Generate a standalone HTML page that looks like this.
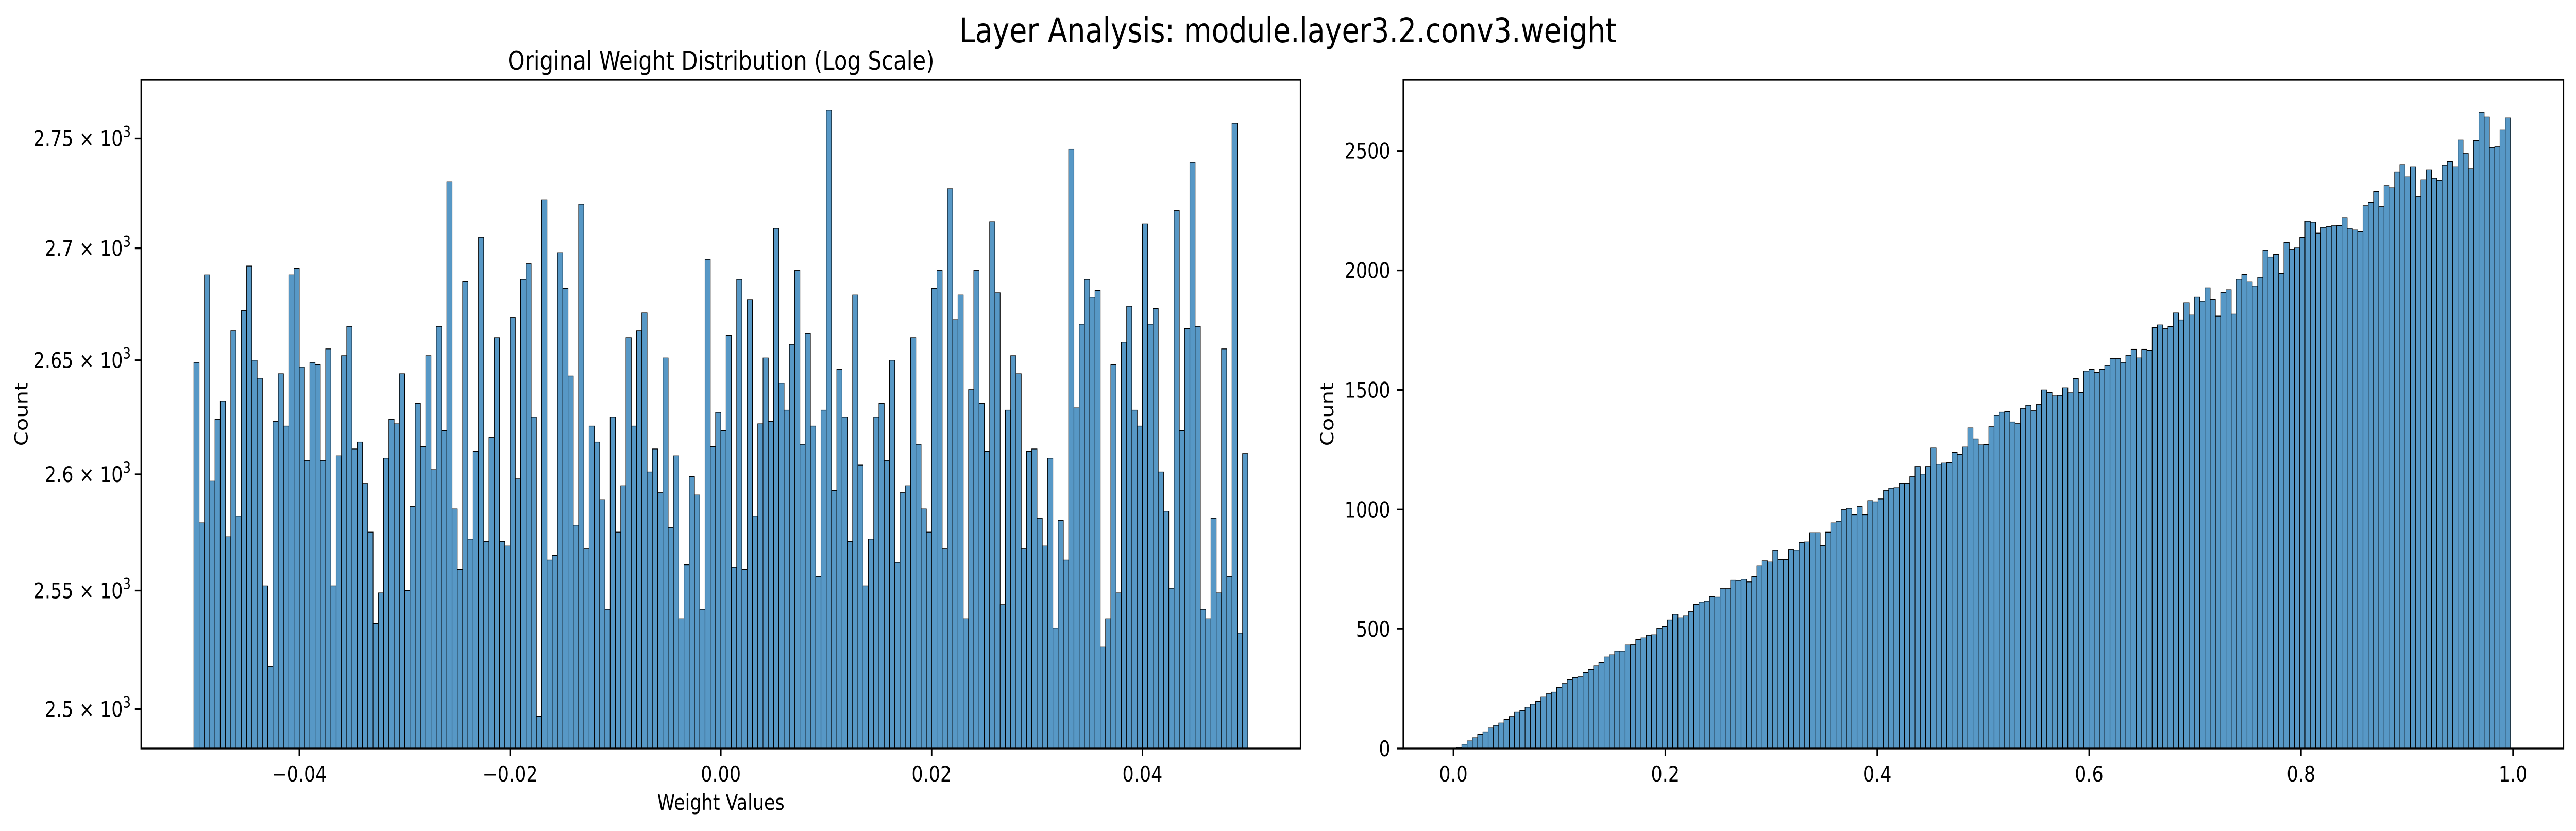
<!DOCTYPE html>
<html><head><meta charset="utf-8"><style>
html,body{margin:0;padding:0;background:#fff;overflow:hidden;width:100%;height:100%;}
svg{display:block;width:100vw;height:100vh;font-family:"DejaVu Sans","Liberation Sans",sans-serif;}
</style></head><body>
<svg id="chart" viewBox="0 0 5966 1612" preserveAspectRatio="none" xmlns="http://www.w3.org/2000/svg">
<rect width="5966" height="1612" fill="#fff"/>
<text x="2983" y="82" font-size="66" text-anchor="middle">Layer Analysis: module.layer3.2.conv3.weight</text>
<text x="1670" y="135" font-size="50" text-anchor="middle">Original Weight Distribution (Log Scale)</text>
<g id="left"></g>
<g id="right"></g>
</svg>
<script>
// Left histogram data (log-scale y)
const leftBinStart = -0.05;
const leftBinEnd = 0.05;
const leftCounts = [2649,2579,2688,2597,2624,2632,2573,2663,2582,2672,2692,2650,2642,2552,2518,2623,2644,2621,2688,2691,
2647,2606,2649,2648,2606,2655,2552,2608,2652,2665,2611,2614,2596,2575,2536,2549,2607,2624,2622,2644,
2550,2586,2631,2612,2652,2602,2665,2619,2730,2585,2559,2685,2572,2610,2705,2571,2616,2660,2571,2569,
2669,2598,2686,2693,2625,2497,2722,2563,2565,2698,2682,2643,2578,2720,2568,2621,2614,2589,2542,2625,
2575,2595,2660,2621,2663,2671,2601,2611,2592,2651,2577,2608,2538,2561,2599,2591,2542,2695,2612,2627,
2619,2661,2560,2686,2559,2677,2582,2622,2651,2623,2709,2640,2628,2657,2690,2613,2662,2621,2556,2628,
2763,2593,2646,2625,2571,2679,2604,2552,2572,2625,2631,2606,2650,2562,2592,2595,2660,2613,2585,2575,
2682,2690,2568,2727,2668,2679,2538,2637,2690,2631,2610,2712,2680,2544,2628,2652,2644,2568,2610,2611,
2581,2569,2607,2534,2580,2563,2745,2629,2666,2686,2678,2681,2526,2538,2648,2549,2658,2674,2628,2621,
2711,2666,2673,2601,2584,2551,2717,2619,2664,2739,2665,2542,2538,2581,2549,2655,2556,2757,2532,2609];
const leftXTicks = [-0.04,-0.02,0.00,0.02,0.04];
const leftXTickLabels = ["\u22120.04","\u22120.02","0.00","0.02","0.04"];
const leftYTicks = [2500,2550,2600,2650,2700,2750];
const leftYTickLabels = ["2.5","2.55","2.6","2.65","2.7","2.75"];

// Right histogram data (linear y)
const rightBinStart = 0.003;
const rightBinEnd = 0.9977;
const rightCounts = [5,18,32,45,59,70,86,97,107,122,134,152,159,173,186,197,215,229,236,256,
272,288,297,300,318,331,347,359,383,392,408,408,433,434,456,463,474,476,502,510,
538,561,547,556,572,603,613,617,635,633,669,669,704,703,708,697,719,765,785,780,
830,790,790,833,831,862,864,903,903,849,905,944,951,999,1005,978,1012,978,1037,1032,
1044,1080,1089,1091,1110,1110,1137,1180,1148,1180,1257,1189,1194,1196,1239,1230,1261,1341,1295,1270,
1271,1346,1393,1407,1409,1366,1359,1423,1436,1413,1439,1500,1489,1475,1477,1509,1488,1547,1489,1579,
1586,1573,1586,1602,1631,1631,1615,1645,1670,1634,1670,1666,1761,1772,1756,1765,1822,1793,1865,1813,
1888,1872,1927,1879,1809,1908,1919,1817,1963,1983,1951,1935,1971,2085,2056,2067,1987,2117,2088,2094,
2138,2206,2202,2156,2180,2183,2187,2188,2221,2176,2169,2162,2271,2285,2330,2267,2355,2346,2412,2441,
2391,2434,2308,2378,2421,2385,2376,2439,2455,2434,2546,2489,2426,2544,2661,2643,2514,2517,2587,2639];
const rightXTicks = [0.0,0.2,0.4,0.6,0.8,1.0];
const rightXTickLabels = ["0.0","0.2","0.4","0.6","0.8","1.0"];
const rightYTicks = [0,500,1000,1500,2000,2500];
const rightYTickLabels = ["0","500","1000","1500","2000","2500"];

const NS = "http://www.w3.org/2000/svg";
function mk(parent, tag, attrs, text){
  const e = document.createElementNS(NS, tag);
  for (const k in attrs) e.setAttribute(k, attrs[k]);
  if (text !== undefined) e.textContent = text;
  parent.appendChild(e);
  return e;
}
const FILL = "#5798c6";
const TOP = 155, BOT = 1452;

// ---------- LEFT ----------
(function(){
  const g = document.getElementById('left');
  const L = 327, R = 3012;
  const xMin = -0.055, xMax = 0.055;
  const yLogMin = Math.log10(2483.6), yLogMax = Math.log10(2777);
  const xs = v => L + (v - xMin) / (xMax - xMin) * (R - L);
  const ys = v => BOT - (Math.log10(v) - yLogMin) / (yLogMax - yLogMin) * (BOT - TOP);
  const n = leftCounts.length, w = (leftBinEnd - leftBinStart) / n;
  for (let i = 0; i < n; i++) {
    const x0 = xs(leftBinStart + i*w), x1 = xs(leftBinStart + (i+1)*w);
    const y = ys(leftCounts[i]);
    const r = mk(g, 'rect', {x:x0, y:y, width:x1-x0, height:BOT-y, fill:FILL, stroke:'#000', 'stroke-width':1.3});
    
    
  }
  leftXTicks.forEach((t,i)=>{
    const x = xs(t);
    const tk = mk(g,'line',{x1:x,x2:x,y1:BOT,y2:BOT+14.6,stroke:'#000','stroke-width':3.3});
    
    
    const lb = mk(g,'text',{x:x,y:BOT+64,'font-size':41.7,'text-anchor':'middle'},leftXTickLabels[i]);
    
    
  });
  leftYTicks.forEach((t,i)=>{
    const y = ys(t);
    const tk = mk(g,'line',{x1:L-14.6,x2:L,y1:y,y2:y,stroke:'#000','stroke-width':3.3});
    
    
    const lb = mk(g,'text',{x:303,y:y+15,'font-size':41.7,'text-anchor':'end'});
    
    
    mk(lb,'tspan',{},leftYTickLabels[i] + " \u00d7 10");
    mk(lb,'tspan',{dy:-18,'font-size':29},"3");
  });
  const fr = mk(g,'rect',{x:L,y:TOP,width:R-L,height:BOT-TOP,fill:'none',stroke:'#000','stroke-width':3.3});
  
  
  const xl = mk(g,'text',{x:(L+R)/2,y:1571,'font-size':41.7,'text-anchor':'middle'},'Weight Values');
  
  
  const yl = mk(g,'text',{x:0,y:0,'font-size':41.7,'text-anchor':'middle',transform:'translate(64,'+((TOP+BOT)/2)+') rotate(-90)'},'Count');
  
  
})();

// ---------- RIGHT ----------
(function(){
  const g = document.getElementById('right');
  const L = 3250, R = 5937;
  const x0v = 3366, x1v = 5820;
  const xs = v => x0v + v * (x1v - x0v);
  const yMax = 2797;
  const ys = v => BOT - v / yMax * (BOT - TOP);
  const n = rightCounts.length, w = (rightBinEnd - rightBinStart) / n;
  for (let i = 0; i < n; i++) {
    const a = xs(rightBinStart + i*w), b = xs(rightBinStart + (i+1)*w);
    const y = ys(rightCounts[i]);
    const r = mk(g, 'rect', {x:a, y:y, width:b-a, height:BOT-y, fill:FILL, stroke:'#000', 'stroke-width':1.3});
    
    
  }
  rightXTicks.forEach((t,i)=>{
    const x = xs(t);
    const tk = mk(g,'line',{x1:x,x2:x,y1:BOT,y2:BOT+14.6,stroke:'#000','stroke-width':3.3});
    
    
    const lb = mk(g,'text',{x:x,y:BOT+64,'font-size':41.7,'text-anchor':'middle'},rightXTickLabels[i]);
    
    
  });
  rightYTicks.forEach((t,i)=>{
    const y = ys(t);
    const tk = mk(g,'line',{x1:L-14.6,x2:L,y1:y,y2:y,stroke:'#000','stroke-width':3.3});
    
    
    const lb = mk(g,'text',{x:3220,y:y+15,'font-size':41.7,'text-anchor':'end'},rightYTickLabels[i]);
    
    
  });
  const fr = mk(g,'rect',{x:L,y:TOP,width:R-L,height:BOT-TOP,fill:'none',stroke:'#000','stroke-width':3.3});
  
  
  const yl = mk(g,'text',{x:0,y:0,'font-size':41.7,'text-anchor':'middle',transform:'translate(3088,'+((TOP+BOT)/2)+') rotate(-90)'},'Count');
  
  
})();
</script>
</body></html>
